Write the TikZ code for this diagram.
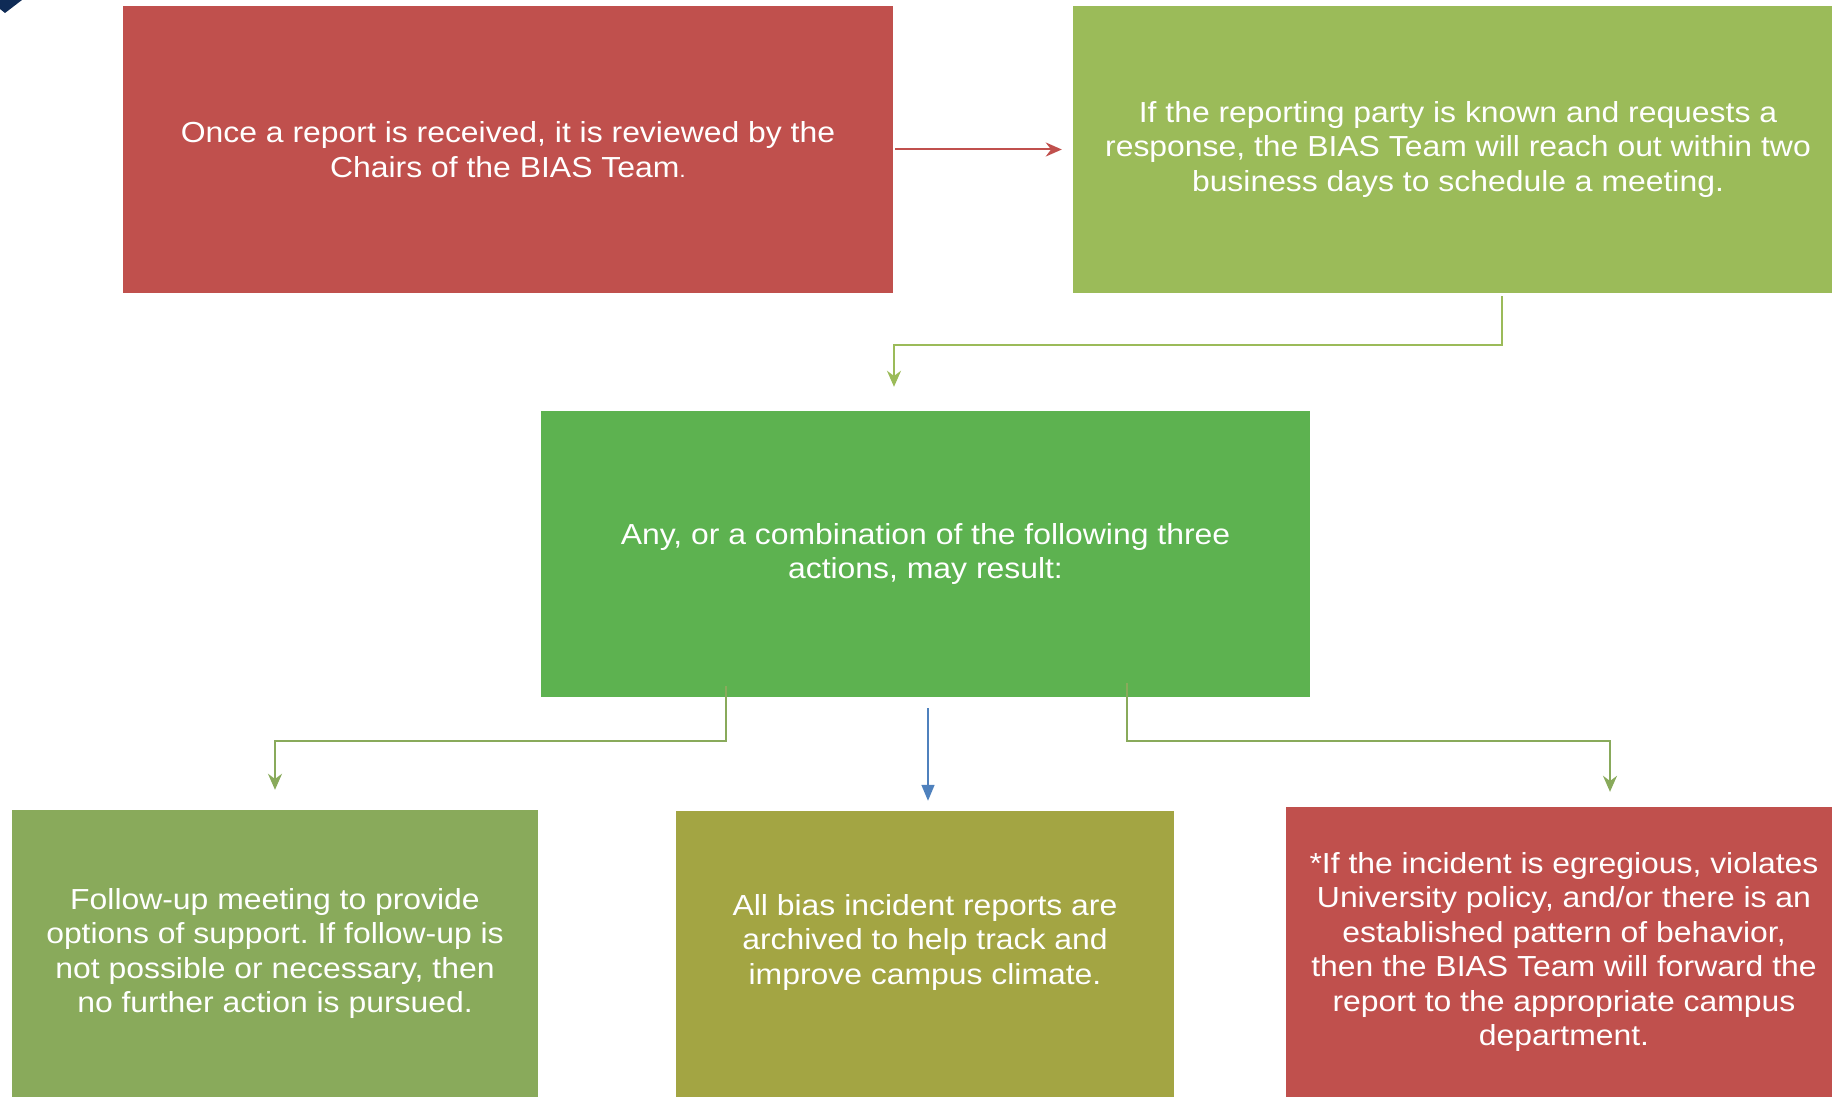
\documentclass[tikz,border=0pt]{standalone}
\usepackage{fontspec}
\setmainfont{Liberation Sans}[FakeStretch=1.1]
\usetikzlibrary{arrows.meta}
\definecolor{brick}{HTML}{C0504D}
\definecolor{leaf}{HTML}{9BBB59}
\definecolor{grass}{HTML}{5DB250}
\definecolor{sage}{HTML}{89AA5B}
\definecolor{olive}{HTML}{A3A543}
\definecolor{steel}{HTML}{4F81BD}
\definecolor{navy}{HTML}{0F2B56}
\frenchspacing
\begin{document}
\begin{tikzpicture}[x=1pt,y=-1pt,
  box/.style={rectangle, inner sep=0pt, text=white, align=center,
    font=\fontsize{29}{34.5}\selectfont},
  link/.style={line width=2pt, -{Stealth[length=16pt,width=14pt]}},
  drop/.style={line width=1.6pt, -{Triangle[length=16pt,width=13pt]}}]
  \useasboundingbox (0,0) rectangle (1832,1097);
  \fill[navy] (0,0) -- (22,0) -- (5,13) -- (0,9) -- cycle;
  \node[box, fill=brick, minimum width=770pt, minimum height=287pt] (received) at (508,149.5)
    {Once a report is received, it is reviewed by the\\Chairs of the BIAS Team{\fontsize{21}{21}\selectfont.}};
  \node[box, fill=leaf, minimum width=770pt, minimum height=287pt] (respond) at (1458,149.5)
    {If the reporting party is known and requests a\\response, the BIAS Team will reach out within two\\business days to schedule a meeting.};
  \node[box, fill=grass, minimum width=769pt, minimum height=286pt] (actions) at (925.5,554)
    {Any, or a combination of the following three\\actions, may result:};
  \node[box, fill=sage, minimum width=526pt, minimum height=287pt] (followup) at (275,953.5)
    {Follow-up meeting to provide\\options of support. If follow-up is\\not possible or necessary, then\\no further action is pursued.};
  \node[box, fill=olive, minimum width=498pt, minimum height=286pt] (archive) at (925,954)
    {All bias incident reports are\\archived to help track and\\improve campus climate.\\[-4.5pt]};
  \node[box, fill=brick, minimum width=556pt, minimum height=290pt] (forward) at (1564,952)
    {*If the incident is egregious, violates\\University policy, and/or there is an\\established pattern of behavior,\\then the BIAS Team will forward the\\report to the appropriate campus\\department.};
  \draw[link, brick] ([xshift=2pt]received.east) -- ([xshift=-11pt]respond.west);
  \draw[link, leaf] ([xshift=44pt,yshift=-3pt]respond.south) -- ++(0,49)
    -| ([xshift=-31.5pt,yshift=24pt]actions.north);
  \draw[link, sage] ([xshift=-199.5pt,yshift=11pt]actions.south) -- ++(0,55)
    -| ([yshift=20pt]followup.north);
  \draw[drop, steel] ([xshift=2.5pt,yshift=-11pt]actions.south) -- ([xshift=3pt,yshift=10pt]archive.north);
  \draw[link, sage] ([xshift=201.5pt,yshift=14pt]actions.south) -- ++(0,58)
    -| ([xshift=46pt,yshift=15pt]forward.north);
\end{tikzpicture}
\end{document}
